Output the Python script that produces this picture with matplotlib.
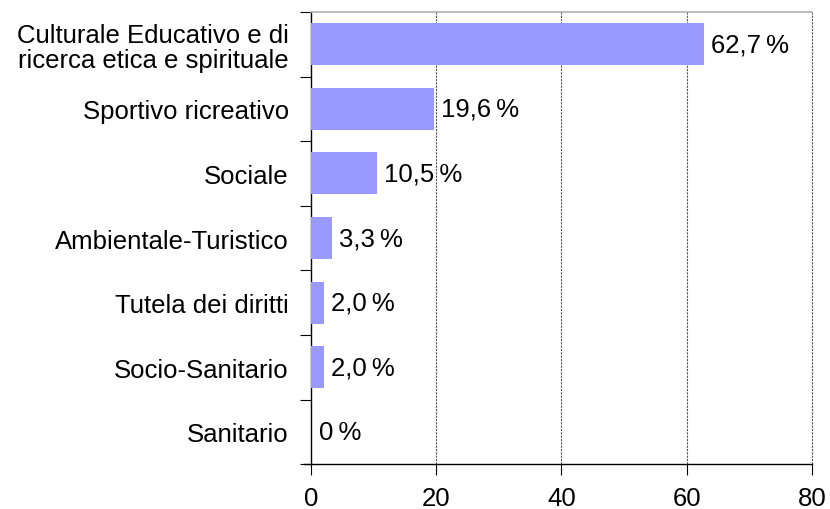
import numpy as np
import matplotlib
matplotlib.use("Agg")
import matplotlib.pyplot as plt

plt.rcParams["font.family"] = ["Liberation Sans", "DejaVu Sans"]

categories = ["Culturale Educativo e di\nricerca etica e spirituale", "Sportivo ricreativo", "Sociale",
              "Ambientale-Turistico", "Tutela dei diritti", "Socio-Sanitario", "Sanitario"]
values = [62.7, 19.6, 10.5, 3.3, 2.0, 2.0, 0.0]
value_labels = ["62,7\u2009%", "19,6\u2009%", "10,5\u2009%", "3,3\u2009%", "2,0\u2009%", "2,0\u2009%", "0\u2009%"]
xticks = [0, 20, 40, 60, 80]

FS = 18.5
fig = plt.figure(figsize=(8.3, 5.1), dpi=100)
ax = fig.add_axes([0.3747, 0.088, 0.6036, 0.8865])
y = np.arange(len(categories))
ax.barh(y, values, height=0.65, color="#9999FF", zorder=3)
for yi, v, lab in zip(y, values, value_labels):
    ax.text(v + 1.2, yi, lab, va="center", ha="left", fontsize=FS, zorder=4)

ax.set_xlim(0, 80)
ax.set_ylim(len(categories) - 0.5, -0.5)
ax.set_xticks(xticks)
ax.set_xticklabels([str(t) for t in xticks], fontsize=FS)
ax.set_yticks(y)
ax.set_yticklabels(categories, fontsize=FS, linespacing=1.05)
ax.set_yticks(np.arange(-0.5, len(categories)), minor=True)
ax.tick_params(axis="y", which="major", length=0, pad=16)
ax.tick_params(axis="y", which="minor", length=8, width=0.8, direction="out")
ax.tick_params(axis="x", length=8, width=0.8, direction="out", pad=8)

for gx in xticks[1:]:
    ax.axvline(gx, color="#555555", lw=0.8, ls=(0, (2, 1)), zorder=1, clip_on=False)

ax.spines["top"].set_color("#b0b0b0")
ax.spines["top"].set_linewidth(1.2)
ax.spines["right"].set_visible(False)
ax.spines["left"].set_linewidth(1.0)
ax.spines["bottom"].set_linewidth(1.0)
# bottom line runs a little to the left of zero like the original
ax.plot([-1.1, 0], [len(categories) - 0.5] * 2, color="black", lw=1.0, clip_on=False)

fig.savefig("out.png", dpi=100)
